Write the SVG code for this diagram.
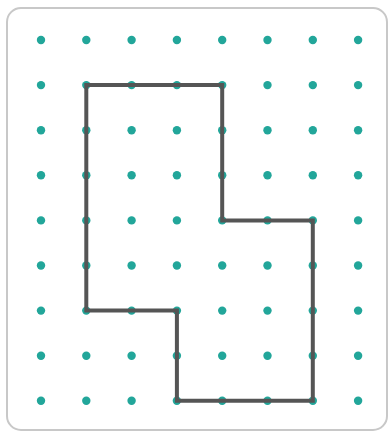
<svg xmlns="http://www.w3.org/2000/svg" width="390" height="434" viewBox="0 0 390 434">
<style>
.frame{fill:#fff;stroke:#c8c8c8;stroke-width:2}
.dot{fill:#22a69a}
.shape{fill:none;stroke:#555;stroke-width:4;stroke-linejoin:miter}
</style>
<defs><circle id="d" r="4.2" class="dot"/></defs>
<rect width="390" height="434" fill="#fff"/>
<rect id="frame" class="frame" x="7" y="8" width="380" height="422" rx="14"/>
<g id="dots">
<g id="row0"><use href="#d" x="41" y="40"/><use href="#d" x="86.3" y="40"/><use href="#d" x="131.6" y="40"/><use href="#d" x="176.9" y="40"/><use href="#d" x="222.2" y="40"/><use href="#d" x="267.5" y="40"/><use href="#d" x="312.8" y="40"/><use href="#d" x="358.1" y="40"/></g>
<g id="row1"><use href="#d" x="41" y="85.1"/><use href="#d" x="86.3" y="85.1"/><use href="#d" x="131.6" y="85.1"/><use href="#d" x="176.9" y="85.1"/><use href="#d" x="222.2" y="85.1"/><use href="#d" x="267.5" y="85.1"/><use href="#d" x="312.8" y="85.1"/><use href="#d" x="358.1" y="85.1"/></g>
<g id="row2"><use href="#d" x="41" y="130.2"/><use href="#d" x="86.3" y="130.2"/><use href="#d" x="131.6" y="130.2"/><use href="#d" x="176.9" y="130.2"/><use href="#d" x="222.2" y="130.2"/><use href="#d" x="267.5" y="130.2"/><use href="#d" x="312.8" y="130.2"/><use href="#d" x="358.1" y="130.2"/></g>
<g id="row3"><use href="#d" x="41" y="175.3"/><use href="#d" x="86.3" y="175.3"/><use href="#d" x="131.6" y="175.3"/><use href="#d" x="176.9" y="175.3"/><use href="#d" x="222.2" y="175.3"/><use href="#d" x="267.5" y="175.3"/><use href="#d" x="312.8" y="175.3"/><use href="#d" x="358.1" y="175.3"/></g>
<g id="row4"><use href="#d" x="41" y="220.4"/><use href="#d" x="86.3" y="220.4"/><use href="#d" x="131.6" y="220.4"/><use href="#d" x="176.9" y="220.4"/><use href="#d" x="222.2" y="220.4"/><use href="#d" x="267.5" y="220.4"/><use href="#d" x="312.8" y="220.4"/><use href="#d" x="358.1" y="220.4"/></g>
<g id="row5"><use href="#d" x="41" y="265.5"/><use href="#d" x="86.3" y="265.5"/><use href="#d" x="131.6" y="265.5"/><use href="#d" x="176.9" y="265.5"/><use href="#d" x="222.2" y="265.5"/><use href="#d" x="267.5" y="265.5"/><use href="#d" x="312.8" y="265.5"/><use href="#d" x="358.1" y="265.5"/></g>
<g id="row6"><use href="#d" x="41" y="310.6"/><use href="#d" x="86.3" y="310.6"/><use href="#d" x="131.6" y="310.6"/><use href="#d" x="176.9" y="310.6"/><use href="#d" x="222.2" y="310.6"/><use href="#d" x="267.5" y="310.6"/><use href="#d" x="312.8" y="310.6"/><use href="#d" x="358.1" y="310.6"/></g>
<g id="row7"><use href="#d" x="41" y="355.7"/><use href="#d" x="86.3" y="355.7"/><use href="#d" x="131.6" y="355.7"/><use href="#d" x="176.9" y="355.7"/><use href="#d" x="222.2" y="355.7"/><use href="#d" x="267.5" y="355.7"/><use href="#d" x="312.8" y="355.7"/><use href="#d" x="358.1" y="355.7"/></g>
<g id="row8"><use href="#d" x="41" y="400.8"/><use href="#d" x="86.3" y="400.8"/><use href="#d" x="131.6" y="400.8"/><use href="#d" x="176.9" y="400.8"/><use href="#d" x="222.2" y="400.8"/><use href="#d" x="267.5" y="400.8"/><use href="#d" x="312.8" y="400.8"/><use href="#d" x="358.1" y="400.8"/></g>
</g>
<g id="shape">
<polygon class="shape" points="86.3,85.1 222.2,85.1 222.2,220.4 312.8,220.4 312.8,400.8 176.9,400.8 176.9,310.6 86.3,310.6"/>
</g>
</svg>
